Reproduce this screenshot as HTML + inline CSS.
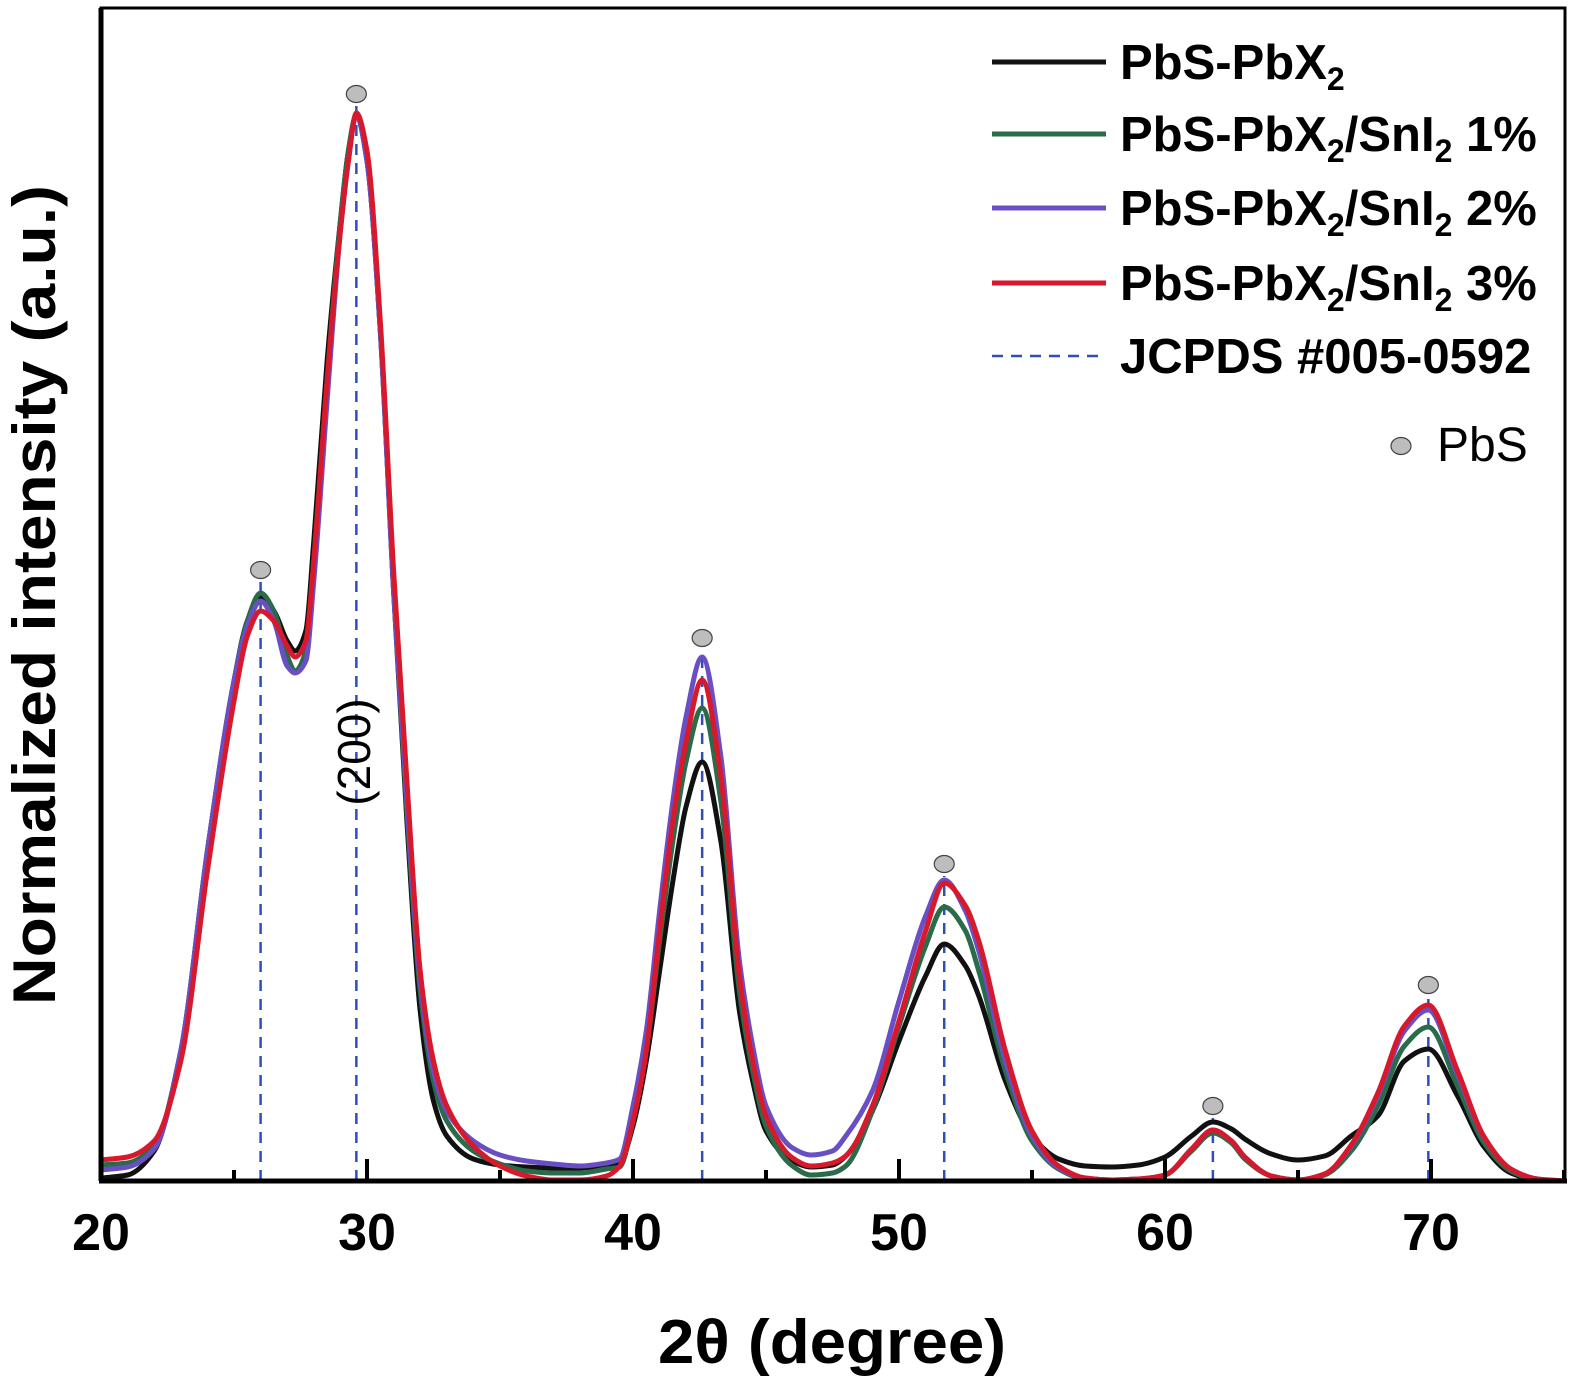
<!DOCTYPE html>
<html><head><meta charset="utf-8">
<style>
html,body{margin:0;padding:0;background:#fff;}
svg{display:block;font-family:"Liberation Sans",sans-serif;}
</style></head>
<body>
<svg id="chart" width="1575" height="1380" viewBox="0 0 1575 1380">
<g id="plot"></g>
<g id="axes"></g>
<text x="0" y="0" transform="translate(55,595) rotate(-90)" text-anchor="middle" font-size="60" font-weight="bold" textLength="820" lengthAdjust="spacingAndGlyphs">Normalized intensity (a.u.)</text>
<text x="832" y="1363" text-anchor="middle" font-size="62" font-weight="bold" textLength="348" lengthAdjust="spacingAndGlyphs">2θ (degree)</text>
<text transform="translate(370,752) rotate(-90)" text-anchor="middle" font-size="46">(200)</text>
<g id="legend"></g>
</svg>
<script>
const xs=[20,21,22,23,24,25,25.5,26,26.5,27,27.3,27.7,28,28.5,29,29.3,29.6,30,30.5,31,31.5,32,32.5,33,34,35,36,37,38,39,39.5,40,40.5,41,41.5,42,42.6,43.3,44,44.5,45,46,46.7,47.5,48,49,50,51,51.7,52.5,53,54,55,56,57,58,59,60,61,61.8,62.5,63,64,65,66,67,68,69,69.9,71,72,73,74,75];
const blackY=[0.3,0.6,3,13,33,50,56,58.3,57,54,53,55,64,82,96,103,106.6,102,85,59,36,17,8,4.5,2.2,1.6,1.4,1.3,1.3,1.6,1.8,5.5,12,21,30,37.5,41.9,34,17,10,5,2,1.4,1.6,2.5,7,14,20.5,23.7,21.5,18.5,10,4.5,2.2,1.5,1.4,1.6,2.4,4.5,5.9,5.2,4.2,2.7,2.1,2.5,4.5,6.5,12,13.2,8.5,3.4,0.8,0.1,0];
const greenY=[1.6,1.8,3.5,13,33,50,56,58.8,57,52.5,51,53,62,80,96,103,106.6,102,85,59,37,19,10,6,3,1.7,1.0,0.8,0.8,1.2,1.4,6,13,24,34,42,47.3,38,19,11,5.5,1.5,0.6,0.8,1.5,7,15.5,23.5,27.4,25,21,11,4,1.2,0.2,0.1,0.2,0.6,3,4.8,3.8,2.2,0.5,0.1,0.6,3,7.5,13.5,15.4,9.5,3.8,1,0.1,0];
const purpleY=[1.1,1.4,3.2,13,33,50,55.5,58,56,51.5,50.8,52,60,78,95,102,106.6,102,85,59,38,20,11,7,4,2.6,2.0,1.7,1.5,1.8,2.2,7.5,15,27,38,46.5,52.4,42.5,22,13.5,7.5,3.3,2.6,3.0,4.5,9,18,26.5,30.1,27,23,12,4.5,1.3,0.3,0.1,0.2,0.6,3.2,5.1,4.0,2.4,0.5,0.1,0.7,3.5,8.5,15,17.1,10.6,4.3,1.2,0.2,0];
const redY=[2.1,2.4,4,12,31,48,54.5,57,56,53.5,52.4,54,62,80,95,102,106.8,103,86,61,40,21,12,7.5,3.5,1.5,0.5,0.1,0.1,0.5,1.5,6,13,25,36,44,50.1,40.5,20.5,12,6.5,2.3,1.5,1.8,2.5,7.5,16,25,29.8,27.5,24,13,5,1.5,0.3,0.1,0.2,0.6,3.2,5.1,4.0,2.4,0.5,0.1,0.7,3.6,8.8,15.5,17.6,11,4.4,1.2,0.2,0];
const refPeaks=[26.0,29.6,42.6,51.7,61.8,69.9];
const refMarkerY=[61.1,108.7,54.3,31.7,7.5,19.6];
const xTicks=[20,30,40,50,60,70];
const xMinor=[25,35,45,55,65,75];

const L=101,R=1565,T=8,B=1181;
const sx=x=>L+(x-20)*26.6;
const sy=y=>B-y*10;
const NS="http://www.w3.org/2000/svg";
function mk(tag,attrs,parent){const e=document.createElementNS(NS,tag);for(const k in attrs)e.setAttribute(k,attrs[k]);parent.appendChild(e);return e;}
const plot=document.getElementById('plot'),axes=document.getElementById('axes'),leg=document.getElementById('legend');

refPeaks.forEach((p,i)=>{
  const ln=mk('line',{x1:sx(p),x2:sx(p),y1:B,y2:sy(refMarkerY[i])+12,stroke:'#2f4fb5','stroke-width':2.5,'stroke-dasharray':'11,8'},plot);
  
  
  const c=mk('ellipse',{cx:sx(p),cy:sy(refMarkerY[i]),rx:10,ry:8.5,fill:'#bdbdbd',stroke:'#444','stroke-width':1.2},plot);
  
  
});

// monotone cubic (Fritsch-Carlson) path
function pathFor(ys){
  const n=xs.length, X=xs.map(sx), Y=ys.map(sy);
  const d=[],m=new Array(n);
  for(let i=0;i<n-1;i++) d.push((Y[i+1]-Y[i])/(X[i+1]-X[i]));
  m[0]=d[0]; m[n-1]=d[n-2];
  for(let i=1;i<n-1;i++){
    if(d[i-1]*d[i]<=0) m[i]=0;
    else { const h0=X[i]-X[i-1],h1=X[i+1]-X[i],w1=2*h1+h0,w2=h1+2*h0; m[i]=(w1+w2)/(w1/d[i-1]+w2/d[i]); }
  }
  let s='M'+X[0].toFixed(1)+','+Y[0].toFixed(1);
  for(let i=0;i<n-1;i++){
    const h=(X[i+1]-X[i])/3;
    s+=`C${(X[i]+h).toFixed(1)},${(Y[i]+m[i]*h).toFixed(1)} ${(X[i+1]-h).toFixed(1)},${(Y[i+1]-m[i+1]*h).toFixed(1)} ${X[i+1].toFixed(1)},${Y[i+1].toFixed(1)}`;
  }
  return s;
}
const series=[[blackY,'#111111','series-pbs-pbx2'],[greenY,'#2a6b4a','series-sni2-1'],[purpleY,'#6a4fc4','series-sni2-2'],[redY,'#d7192b','series-sni2-3']];
series.forEach(s=>{
  const p=mk('path',{d:pathFor(s[0]),fill:'none',stroke:s[1],'stroke-width':5,'stroke-linejoin':'round'},plot);
  
  
});

const fr=mk('rect',{x:L,y:T,width:R-L,height:B-T,fill:'none',stroke:'#000','stroke-width':3},axes);


const xb=mk('line',{x1:L-2,x2:R+2,y1:B,y2:B,stroke:'#000','stroke-width':5},axes);


const yb=mk('line',{x1:L,x2:L,y1:T,y2:B,stroke:'#000','stroke-width':5},axes);


xTicks.forEach(t=>{
  const tk=mk('line',{x1:sx(t),x2:sx(t),y1:B,y2:B-22,stroke:'#000','stroke-width':4},axes);
  
  
  const tx=mk('text',{x:sx(t),y:1250,'text-anchor':'middle','font-size':52,'font-weight':'bold'},axes);
  tx.textContent=t;
  
  
});
xMinor.forEach(t=>{
  const tk=mk('line',{x1:sx(t),x2:sx(t),y1:B,y2:B-11,stroke:'#000','stroke-width':4},axes);
  
  
});

const legY=[62,134,208,283];
series.forEach((s,i)=>{
  const ln=mk('line',{x1:992,x2:1106,y1:legY[i],y2:legY[i],stroke:s[1],'stroke-width':5},leg);
  
  
  const tx=mk('text',{x:1120,y:legY[i]+17,'font-size':49,'font-weight':'bold'},leg);
  
  
  tx.innerHTML = i===0 ? 'PbS-PbX<tspan font-size="32" dy="11">2</tspan>' :
    'PbS-PbX<tspan font-size="32" dy="11">2</tspan><tspan dy="-11">/SnI</tspan><tspan font-size="32" dy="11">2</tspan><tspan dy="-11"> '+(i)+'%</tspan>';
});
const dl=mk('line',{x1:992,x2:1106,y1:356,y2:356,stroke:'#2f4fb5','stroke-width':2.5,'stroke-dasharray':'11,8'},leg);


const dt=mk('text',{x:1120,y:373,'font-size':49,'font-weight':'bold'},leg);
dt.textContent='JCPDS #005-0592';


const lc=mk('ellipse',{cx:1401,cy:446,rx:10,ry:8.5,fill:'#bdbdbd',stroke:'#444','stroke-width':1.2},leg);


const lt=mk('text',{x:1437,y:461,'font-size':48},leg);
lt.textContent='PbS';


</script>
</body></html>
